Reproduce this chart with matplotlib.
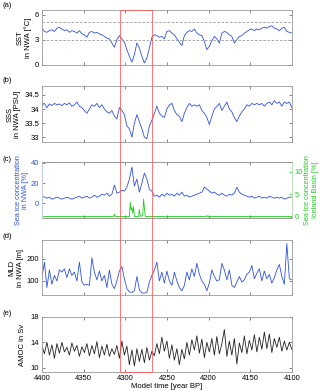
import numpy as np
import matplotlib
matplotlib.use("Agg")
import matplotlib.pyplot as plt
from matplotlib.patches import Rectangle
from matplotlib.transforms import blended_transform_factory

plt.rcParams['font.family'] = ['Liberation Sans', 'DejaVu Sans']
plt.rcParams['font.size'] = 5.5

# eixo do tempo (anos BP), passo de 3 anos
years = np.arange(4400, 4099, -3)

sst = [4.4, 4.0, 3.9, 4.1, 4.2, 4.0, 4.4, 4.5, 4.3, 4.1,
       4.2, 3.9, 4.1, 4.0, 3.8, 4.1, 3.7, 3.6, 3.3, 3.9,
       4.0, 3.8, 3.9, 3.7, 3.6, 3.4, 3.2, 3.1, 2.6, 2.1,
       3.0, 3.5, 3.1, 2.7, 1.8, 1.0, 0.3, 1.2, 2.6, 2.0,
       1.0, 0.2, 0.8, 2.0, 3.3, 3.6, 3.5, 3.3, 3.4, 3.1,
       4.0, 4.1, 3.8, 3.6, 3.1, 2.7, 2.3, 3.5, 3.9, 4.1,
       4.0, 4.3, 3.8, 3.6, 3.5, 2.8, 1.8, 2.2, 2.9, 3.4,
       3.1, 2.6, 3.8, 4.0, 3.9, 3.6, 3.4, 2.6, 3.0, 3.4,
       3.5, 3.8, 4.0, 4.2, 4.3, 4.1, 4.3, 4.2, 4.4, 4.5,
       4.4, 4.6, 4.7, 4.4, 4.3, 4.1, 4.4, 4.5, 4.0, 3.9, 3.8]

sss = [34.15, 34.2, 34.05, 34.18, 34.12, 34.2, 34.15, 34.18, 34.12, 34.2,
       34.15, 34.22, 34.1, 34.15, 34.25, 34.1, 34.05, 33.95, 33.85, 34.0,
       34.15, 34.1, 34.2, 34.05, 34.15, 34.0, 33.9, 33.85, 33.95, 33.75,
       33.65, 34.05, 33.95, 33.8, 33.4, 33.3, 33.0, 33.5, 33.8, 33.55,
       33.3, 33.0, 32.95, 33.4, 33.6, 33.85, 34.1, 33.85, 33.75, 33.7,
       34.0, 34.15, 34.2, 33.95, 33.8, 33.75, 33.55, 33.85, 34.05, 34.2,
       34.1, 34.15, 34.1, 34.15, 33.95, 33.85, 33.7, 33.45, 33.75, 34.0,
       34.1, 34.2, 33.95, 34.1, 34.25, 34.0, 33.9, 33.7, 33.55, 33.75,
       33.9, 34.0, 34.15, 34.1, 34.2, 34.15, 34.2, 34.15, 34.2, 34.1,
       34.2, 34.25, 34.15, 34.3, 34.2, 34.25, 34.1, 34.25, 34.2, 34.25, 34.05]

ice_nwa = [7, 6, 5, 6, 4, 5, 6, 5, 4, 5,
           6, 5, 4, 5, 6, 7, 5, 6, 7, 5,
           6, 8, 6, 7, 9, 8, 10, 7, 9, 18,
           10, 11, 13, 12, 16, 24, 36, 17, 24, 11,
           20, 30, 24, 14, 12, 7, 8, 6, 9, 7,
           10, 8, 9, 7, 10, 8, 11, 7, 8, 6,
           7, 8, 9, 10, 11, 16, 14, 12, 10, 11,
           9, 8, 10, 8, 7, 9, 8, 10, 16, 11,
           9, 8, 7, 6, 7, 5, 6, 7, 5, 6,
           5, 7, 6, 5, 6, 5, 6, 4, 5, 6, 6]

# gelo na Bacia da Islandia (serie esparsa)
years_ib = [4400, 4314, 4313, 4312, 4295, 4294, 4293, 4292, 4291, 4290,
            4289, 4284, 4283, 4282, 4281, 4279, 4278, 4277, 4276, 4203,
            4202, 4201, 4100]
ice_ib = [0, 0, 0.5, 0, 0, 3.2, 1.5, 2.0, 0.8, 2.2,
          0, 0, 1.6, 0.3, 0, 0.2, 3.9, 2.0, 0, 0,
          0.2, 0, 0]

mld = [115, 185, 70, 150, 85, 125, 100, 150, 140, 155,
       115, 155, 125, 140, 100, 185, 95, 80, 85, 80,
       205, 140, 105, 145, 100, 125, 70, 150, 85, 65,
       100, 145, 165, 110, 65, 50, 48, 55, 120, 60,
       45, 45, 48, 95, 125, 150, 185, 100, 140, 90,
       145, 100, 80, 140, 100, 70, 55, 80, 140, 105,
       155, 120, 180, 130, 100, 85, 55, 90, 150, 120,
       100, 105, 180, 150, 105, 150, 80, 70, 95, 120,
       95, 105, 130, 140, 170, 110, 135, 155, 100, 145,
       110, 130, 90, 115, 150, 175, 120, 85, 270, 110, 105]

amoc = [13.5, 12.2, 14.0, 12.0, 13.6, 11.5, 13.8, 12.3, 14.0, 12.5,
        13.2, 12.0, 13.9, 12.6, 13.5, 11.8, 13.3, 12.4, 13.8, 11.9,
        13.5, 12.2, 14.1, 11.6, 13.4, 12.0, 13.7, 11.8, 13.0, 12.1,
        13.5, 11.5, 14.2, 12.0, 13.4, 10.5, 12.8, 10.3, 13.0, 11.0,
        12.9, 10.8, 13.2, 11.2, 12.6, 11.9, 13.8, 12.2, 14.8, 12.6,
        14.2, 11.5, 13.6, 11.2, 13.0, 10.5, 12.9, 11.4, 14.0, 12.0,
        14.4, 12.8, 15.0, 12.3, 14.5, 11.6, 14.0, 12.5, 14.6, 12.0,
        14.9, 12.2, 13.8, 16.0, 11.8, 14.2, 12.0, 14.6, 10.6, 13.9,
        12.4, 15.0, 12.2, 14.3, 12.8, 15.2, 12.5, 14.8, 12.9, 15.6,
        13.0, 15.3, 12.4, 14.6, 13.2, 14.8, 12.6, 14.2, 12.8, 14.0, 12.9]

sst_lines = [5.1, 3.0]
event = [4306, 4268]
xticks = [4400, 4350, 4300, 4250, 4200, 4150, 4100]

blue = '#2f52e0'
green = '#22cc22'
spine = '#9a9a9a'

fig = plt.figure(figsize=(3.2, 3.91), dpi=100)
L, W = 0.131, 0.781
ax_a = fig.add_axes([L, 0.8338, W, 0.1407])
ax_b = fig.add_axes([L, 0.6368, W, 0.1420])
ax_c = fig.add_axes([L, 0.4417, W, 0.1440])
ax_d = fig.add_axes([L, 0.2455, W, 0.1407])
ax_e = fig.add_axes([L, 0.0478, W, 0.1420])
axes = [ax_a, ax_b, ax_c, ax_d, ax_e]

def estilo(ax):
    ax.set_xlim(4400, 4100)
    ax.set_xticks(xticks)
    ax.tick_params(direction='in', length=2.5, width=0.5, top=True, right=True,
                   labelsize=5.5, pad=2, color='#555555')
    for s in ax.spines.values():
        s.set_color(spine)
        s.set_linewidth(0.6)
    if ax is not ax_e:
        ax.set_xticklabels([])

for ax in axes:
    estilo(ax)

ax_a.plot(years, sst, color=blue, lw=0.6)
for v in sst_lines:
    ax_a.axhline(v, color='#999999', lw=0.6, ls='--', dashes=(3, 2))
ax_a.set_ylim(-0.05, 6.6)
ax_a.set_yticks([0, 3, 6])
ax_a.set_ylabel('SST\nin NWA [°C]', labelpad=2)

ax_b.plot(years, sss, color=blue, lw=0.6)
ax_b.set_ylim(32.83, 34.8)
ax_b.set_yticks([33, 33.5, 34, 34.5])
ax_b.set_yticklabels(['33', '33.5', '34', '34.5'])
ax_b.set_ylabel('SSS\nin NWA [PSU]', labelpad=2)

ax_c.plot(years, ice_nwa, color=blue, lw=0.6)
ax_c.set_ylim(-15, 41)
ax_c.set_yticks([0, 20, 40])
ax_c.tick_params(axis='y', labelcolor=blue, right=False)
ax_c.set_ylabel('Sea ice concentration\nin NWA [%]', color=blue, labelpad=1,
                fontsize=5.3, linespacing=1.05)
ax_c2 = ax_c.twinx()
ax_c2.plot(years_ib, ice_ib, color=green, lw=0.6)
ax_c2.set_ylim(-0.4, 12.2)
ax_c2.set_yticks([0, 5, 10])
ax_c2.tick_params(direction='in', length=2.5, width=0.5, labelsize=5.5, pad=2,
                  labelcolor=green, color=green)
for s in ax_c2.spines.values():
    s.set_color(spine)
    s.set_linewidth(0.6)
ax_c2.spines['right'].set_color('#bfeebf')
ax_c2.spines['left'].set_color('#c8d0f5')
ax_c2.set_ylabel('Sea ice concentration\nIceland Basin [%]', color=green,
                 labelpad=1, fontsize=5.3, linespacing=1.05)

ax_d.plot(years, mld, color=blue, lw=0.6)
ax_d.set_ylim(36, 286)
ax_d.set_yticks([100, 200])
ax_d.set_ylabel('MLD\nin NWA [m]', labelpad=2)

ax_e.plot(years, amoc, color='#222222', lw=0.6)
ax_e.set_ylim(9.3, 18)
ax_e.set_yticks([10, 14, 18])
ax_e.set_ylabel('AMOC in Sv', labelpad=3)
ax_e.set_xlabel('Model time [year BP]', labelpad=1)

for ax, lab, y in zip(axes, ['(a)', '(b)', '(c)', '(d)', '(e)'],
                      [0.985, 0.795, 0.591, 0.396, 0.199]):
    fig.text(0.008, y, lab, fontsize=5.5, va='center')

# caixa vermelha do evento, atravessando todos os paineis
trans = blended_transform_factory(ax_e.transData, fig.transFigure)
y0 = 0.0478
y1 = 0.8338 + 0.1407
fig.add_artist(Rectangle((event[0], y0), event[1] - event[0], y1 - y0,
                         transform=trans, fill=False, edgecolor='#ff5555',
                         lw=0.7, alpha=0.8, zorder=10))

fig.savefig('out.png', dpi=100)
